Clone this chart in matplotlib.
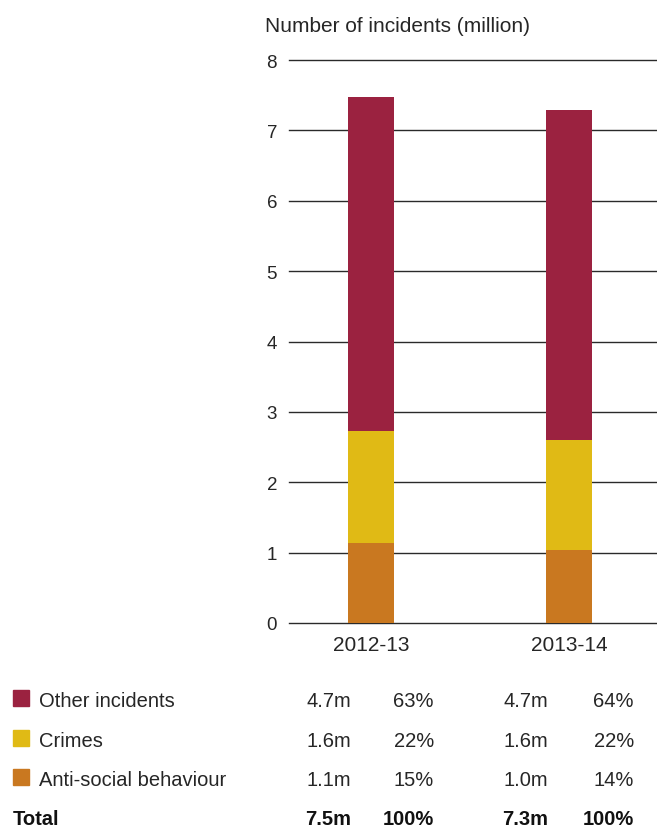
import matplotlib
matplotlib.use("Agg")
import matplotlib.pyplot as plt
from matplotlib.patches import Rectangle

# Data
years = ["2012-13", "2013-14"]
asb = [1.14, 1.04]          # anti-social behaviour (million)
crimes = [1.59, 1.56]
other = [4.74, 4.69]

series_names = ["Other incidents", "Crimes", "Anti-social behaviour"]
series_colors = ["#9b2240", "#e0ba15", "#c97820"]

# Summary table below the chart
table_values = [["4.7m", "4.7m"], ["1.6m", "1.6m"], ["1.1m", "1.0m"]]
table_shares = [["63%", "64%"], ["22%", "22%"], ["15%", "14%"]]
total_values = ["7.5m", "7.3m"]
total_shares = ["100%", "100%"]

W, H = 657, 828
plt.rcParams['font.family'] = ['Liberation Sans', 'DejaVu Sans']
text_color = "#262626"
fs_table = 14.5

fig = plt.figure(figsize=(W / 100, H / 100), dpi=100)


def px(x, y):
    return x / W, 1 - y / H


# Plot area: x 289..657, y 61..624 px
ax = fig.add_axes([289 / W, 1 - 624 / H, (657 - 289) / W, (624 - 61) / H])

xpos = [0, 1]
width = 0.232
ax.bar(xpos, asb, width, color=series_colors[2], zorder=3)
ax.bar(xpos, crimes, width, bottom=asb, color=series_colors[1], zorder=3)
base3 = [a + c for a, c in zip(asb, crimes)]
ax.bar(xpos, other, width, bottom=base3, color=series_colors[0], zorder=3)

ax.set_ylim(0, 8)
ax.set_xlim(-0.414, 1.444)
ax.set_yticks(range(0, 9))
ax.set_xticks(xpos)
ax.set_xticklabels(years)
ax.yaxis.grid(True, color="#2a2a2a", linewidth=1.0, zorder=0)
for gl in ax.get_ygridlines():
    gl.set_clip_on(False)
ax.set_axisbelow(True)
for s in ax.spines.values():
    s.set_visible(False)
ax.tick_params(axis="y", length=0, pad=8.6, labelsize=13.5, labelcolor=text_color)
ax.tick_params(axis="x", length=0, pad=9, labelsize=15, labelcolor=text_color)

fig.text(*px(265, 32), "Number of incidents (million)", fontsize=15,
         color=text_color, ha="left", va="baseline")

# Table with legend swatches
row_baselines = [707, 747, 786, 825]
col_right = [351, 434, 548, 634]
for i, name in enumerate(series_names):
    yb = row_baselines[i]
    fig.patches.append(Rectangle((13 / W, 1 - yb / H), 16 / W, 16 / H,
                                 transform=fig.transFigure,
                                 color=series_colors[i], figure=fig))
    fig.text(*px(39, yb), name, fontsize=fs_table, color=text_color,
             ha="left", va="baseline")
    cells = [table_values[i][0], table_shares[i][0],
             table_values[i][1], table_shares[i][1]]
    for xr, t in zip(col_right, cells):
        fig.text(*px(xr, yb), t, fontsize=fs_table, color=text_color,
                 ha="right", va="baseline")

yb = row_baselines[3]
fig.text(*px(13, yb), "Total", fontsize=fs_table, color="#111111",
         fontweight="bold", ha="left", va="baseline")
cells = [total_values[0], total_shares[0], total_values[1], total_shares[1]]
for xr, t in zip(col_right, cells):
    fig.text(*px(xr, yb), t, fontsize=fs_table, color="#111111",
             fontweight="bold", ha="right", va="baseline")

fig.savefig("out.png", dpi=100)
